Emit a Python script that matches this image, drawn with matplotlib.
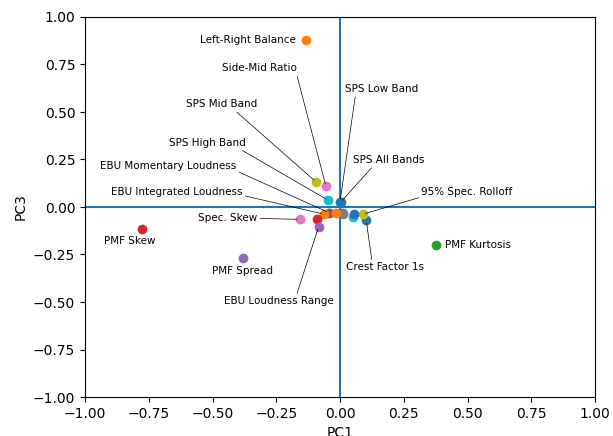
import matplotlib
matplotlib.use('Agg')
from matplotlib import pyplot as plt

# feature loadings on PC1 / PC3 (order follows the default colour cycle)
names = [
    'Crest Factor 1s', 'Left-Right Balance', 'PMF Kurtosis', 'PMF Skew', 'PMF Spread',
    'EBU Momentary Loudness', 'Spec. Skew', '', '95% Spec. Rolloff', '',
    '', 'EBU Integrated Loudness', 'SPS All Bands', '', 'EBU Loudness Range',
    '', 'Side-Mid Ratio', '', 'SPS Mid Band', 'SPS High Band',
    'SPS Low Band', '',
]
pc1 = [
    0.103, -0.133, 0.378, -0.775, -0.379,
    -0.043, -0.157, 0.010, 0.089, 0.050,
    0.054, -0.062, 0.003, -0.092, -0.084,
    0.005, -0.055, 0.012, -0.094, -0.048,
    0.000, -0.016,
]
pc3 = [
    -0.070, 0.877, -0.200, -0.114, -0.270,
    -0.030, -0.065, -0.032, -0.038, -0.055,
    -0.038, -0.038, 0.026, -0.065, -0.104,
    -0.030, 0.109, -0.035, 0.132, 0.037,
    0.027, -0.030,
]

# label placement: (x, y, ha, relpos of the leader line or None)
label_pos = {
    'Left-Right Balance': (-0.174, 0.879, 'right', None),
    'PMF Skew': (-0.823, -0.181, 'center', None),
    'PMF Spread': (-0.384, -0.337, 'center', None),
    'PMF Kurtosis': (0.410, -0.199, 'left', None),
    'Side-Mid Ratio': (-0.171, 0.729, 'right', (1, 0)),
    'SPS Low Band': (0.018, 0.620, 'left', (0.15, 0)),
    'SPS Mid Band': (-0.604, 0.540, 'left', (0.67, 0)),
    'SPS High Band': (-0.669, 0.338, 'left', (0.89, 0)),
    'SPS All Bands': (0.052, 0.247, 'left', (0.29, 0)),
    'EBU Momentary Loudness': (-0.406, 0.216, 'right', (1, 0)),
    'EBU Integrated Loudness': (-0.382, 0.077, 'right', (1, 0.2)),
    'Spec. Skew': (-0.324, -0.060, 'right', (1, 0.5)),
    'EBU Loudness Range': (-0.456, -0.496, 'left', (0.66, 1)),
    'Crest Factor 1s': (0.025, -0.318, 'left', (0.33, 1)),
    '95% Spec. Rolloff': (0.319, 0.079, 'left', (0, 0)),
}

fig = plt.figure(figsize=(6.13, 4.36), dpi=100)
ax = fig.add_axes([85 / 613, 39 / 436, 510 / 613, 380 / 436])

ax.axhline(0, color='C0', lw=1.5, zorder=0)
ax.axvline(0, color='C0', lw=1.5, zorder=0)

for i, (name, x, y) in enumerate(zip(names, pc1, pc3)):
    ax.scatter(x, y, color='C{}'.format(i % 10), s=36, zorder=2)

for name, x, y in zip(names, pc1, pc3):
    if not name:
        continue
    tx, ty, ha, rel = label_pos[name]
    if rel is None:
        ax.text(tx, ty, name, ha=ha, va='center', fontsize=7.5)
    else:
        ax.annotate(name, xy=(x, y), xytext=(tx, ty), ha=ha, va='center',
                    fontsize=7.5,
                    arrowprops=dict(arrowstyle='-', color='k', lw=0.5,
                                    relpos=rel, shrinkA=0, shrinkB=2))

ax.set_xlim(-1, 1)
ax.set_ylim(-1, 1)
ax.set_xticks([-1, -0.75, -0.5, -0.25, 0, 0.25, 0.5, 0.75, 1])
ax.set_yticks([-1, -0.75, -0.5, -0.25, 0, 0.25, 0.5, 0.75, 1])
ax.set_xlabel('PC1')
ax.set_ylabel('PC3')

fig.savefig('out.png', dpi=100)
